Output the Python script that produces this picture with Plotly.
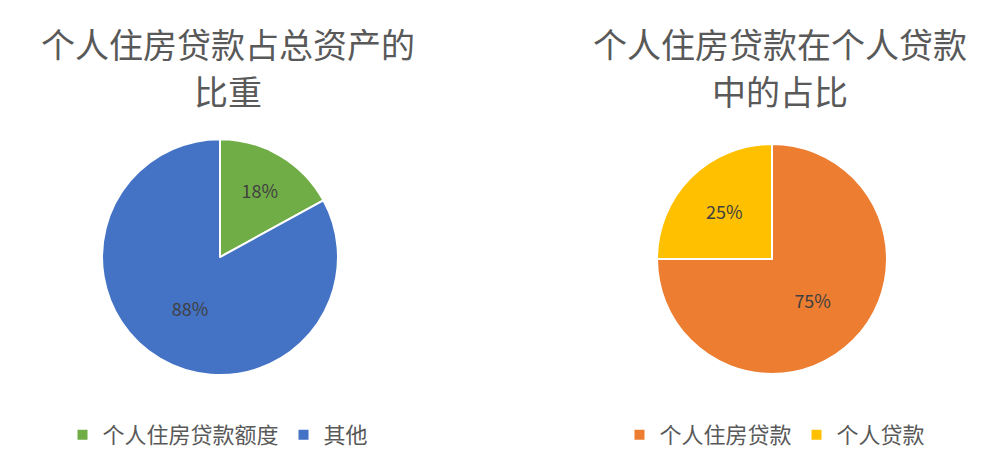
import plotly.graph_objects as go

# left pie: housing loans vs total assets
left_labels = ["个人住房贷款额度", "其他"]
left_values = [17, 83]
left_text = ["18%", "88%"]
left_colors = ["#70AD47", "#4472C4"]

# right pie: housing loans within personal loans
right_labels = ["个人住房贷款", "个人贷款"]
right_values = [75, 25]
right_text = ["75%", "25%"]
right_colors = ["#ED7D31", "#FFC000"]

left_title = ["个人住房贷款占总资产的", "比重"]
right_title = ["个人住房贷款在个人贷款", "中的占比"]

cjk = "Noto Sans CJK SC"
grey = "#595959"

fig = go.Figure()

fig.add_trace(go.Pie(
    labels=left_labels, values=left_values, text=left_text,
    textinfo="text", textposition="inside", insidetextorientation="horizontal",
    sort=False, direction="clockwise", rotation=0,
    marker=dict(colors=left_colors, line=dict(color="white", width=2)),
    textfont=dict(family=cjk, size=18, color="#404040"),
    domain=dict(x=[0.094, 0.330], y=[0.219, 0.721]),
    legend="legend", hoverinfo="label+text",
))

fig.add_trace(go.Pie(
    labels=right_labels, values=right_values, text=right_text,
    textinfo="text", textposition="inside", insidetextorientation="horizontal",
    sort=False, direction="clockwise", rotation=0,
    marker=dict(colors=right_colors, line=dict(color="white", width=2)),
    textfont=dict(family=cjk, size=18, color="#404040"),
    domain=dict(x=[0.649, 0.879], y=[0.221, 0.711]),
    legend="legend2", hoverinfo="label+text",
))

# titles, one annotation per line so the spacing can be set
line_y = [1 - 35 / 470, 1 - 82 / 470]
for cx, lines in [(0.22, left_title), (0.772, right_title)]:
    for ly, line in zip(line_y, lines):
        fig.add_annotation(text=line, x=cx, y=ly, xref="paper", yref="paper",
                           xanchor="center", yanchor="middle", showarrow=False,
                           font=dict(family=cjk, size=34, color=grey))

leg_font = dict(family=cjk, size=22, color=grey)
fig.update_layout(
    width=1000, height=470,
    margin=dict(l=0, r=0, t=0, b=0),
    paper_bgcolor="white", plot_bgcolor="white",
    legend=dict(orientation="h", x=0.21, y=1 - 427 / 470, xanchor="center", yanchor="middle",
                font=leg_font, itemwidth=30, bgcolor="rgba(0,0,0,0)"),
    legend2=dict(orientation="h", x=0.767, y=1 - 427 / 470, xanchor="center", yanchor="middle",
                 font=leg_font, itemwidth=30, bgcolor="rgba(0,0,0,0)"),
)

fig.write_html("out.html")
